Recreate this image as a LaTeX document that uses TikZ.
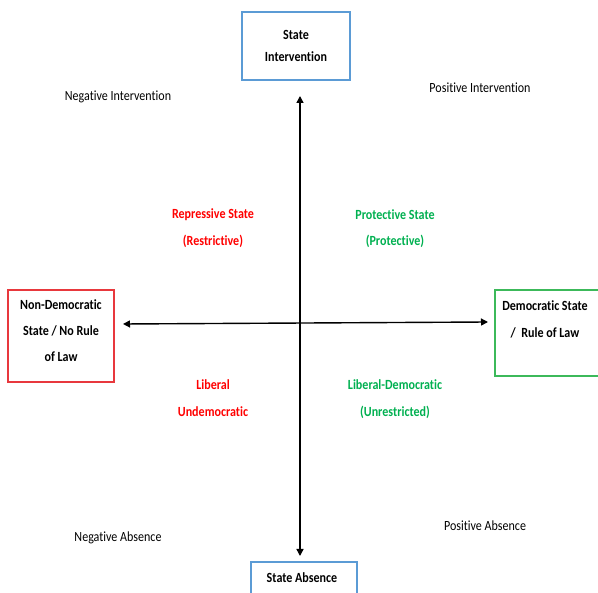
\documentclass[tikz,border=0pt]{standalone}
\usepackage{fontspec}
\setmainfont{Carlito}[FakeStretch=0.86, Ligatures={NoCommon}]
\usetikzlibrary{arrows.meta}
\definecolor{bboxc}{HTML}{5B9BD5}
\definecolor{rboxc}{HTML}{E8383D}
\definecolor{gboxc}{HTML}{3CB95A}
\definecolor{redt}{HTML}{FF0000}
\definecolor{greent}{HTML}{00B050}
\tikzset{
  box/.style={line width=1.5pt, fill=white},
  lbl/.style={font=\fontsize{14}{14}\selectfont, inner sep=0pt, anchor=center},
  qlbl/.style={font=\bfseries\fontsize{14}{14}\selectfont, inner sep=0pt, anchor=center},
  axis/.style={line width=1.4pt, {Triangle[length=7pt,width=7pt]}-{Triangle[length=7pt,width=7pt]}}
}
\begin{document}
\begin{tikzpicture}[x=1pt,y=-1pt]
\useasboundingbox (0,0) rectangle (598,593);
\clip (0,0) rectangle (598,593);
% boxes
\draw[box, draw=bboxc] (242,12) rectangle (350,80);
\node[qlbl] (ti1) at (296,35) {State};
\node[qlbl] (ti2) at (296,57) {Intervention};
\draw[box, draw=rboxc] (8,290) rectangle (114,382);
\node[qlbl] (nd1) at (61,305) {Non-Democratic};
\node[qlbl] (nd2) at (61,331) {State / No Rule};
\node[qlbl] (nd3) at (61,357) {of Law};
\draw[box, draw=gboxc] (495,290) rectangle (610,376);
\node[qlbl] (dm1) at (545,306) {Democratic State};
\node[qlbl] (dm2) at (545,333) {/\ \ Rule of Law};
\draw[box, draw=bboxc] (251,562) rectangle (357,600);
\node[qlbl] (sa) at (302,578) {State Absence};
% axes
\coordinate (vt) at (300,96);
\coordinate (vb) at (300,556);
\coordinate (hl) at (123,324);
\coordinate (hr) at (488,322);
\draw[axis] (vt) -- (vb);
\draw[axis] (hl) -- (hr);
% corner labels
\node[lbl] (ni) at (118,97) {Negative Intervention};
\node[lbl] (pi) at (480,88) {Positive Intervention};
\node[lbl] (na) at (118,538) {Negative Absence};
\node[lbl] (pa) at (485,526) {Positive Absence};
% quadrant labels
\node[qlbl, redt] (rs1) at (213,215) {Repressive State};
\node[qlbl, redt] (rs2) at (213,241) {(Restrictive)};
\node[qlbl, greent] (ps1) at (395,215) {Protective State};
\node[qlbl, greent] (ps2) at (395,241) {(Protective)};
\node[qlbl, redt] (lu1) at (213,385) {Liberal};
\node[qlbl, redt] (lu2) at (213,412) {Undemocratic};
\node[qlbl, greent] (ld1) at (395,385) {Liberal-Democratic};
\node[qlbl, greent] (ld2) at (395,412) {(Unrestricted)};
\end{tikzpicture}
\end{document}
